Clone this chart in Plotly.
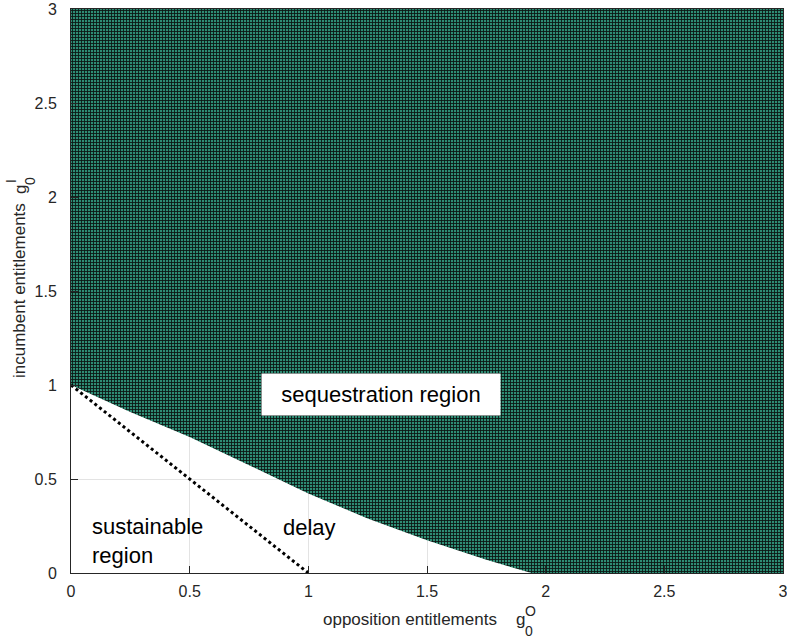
import plotly.graph_objects as go

# ---- data ----
boundary_x = [0.0, 0.25, 0.5, 0.75, 1.0, 1.25, 1.5, 1.75, 1.94]
boundary_y = [1.0, 0.857, 0.724, 0.573, 0.423, 0.29, 0.174, 0.07, 0.0]
axis_max = 3.0
delay_x = [0.0, 1.0]
delay_y = [1.0, 0.0]
tick_vals = [0, 0.5, 1, 1.5, 2, 2.5, 3]
tick_text = ["0", "0.5", "1", "1.5", "2", "2.5", "3"]

# ---- layout geometry ----
W, H = 787, 640
L, R, T, B = 71, 4, 9, 67
PW, PH = W - L - R, H - T - B

def px(x):
    return (x - L) / PW

def py(y):
    return (H - B - y) / PH

FONT = "Liberation Sans, Arial, sans-serif"
TXT = "#262626"

region_x = boundary_x + [axis_max, axis_max, 0.0]
region_y = boundary_y + [0.0, axis_max, axis_max]

fig = go.Figure()
fig.add_trace(go.Scatter(
    x=region_x, y=region_y, mode="lines", fill="toself",
    line=dict(width=0, color="rgba(0,0,0,0)"),
    fillcolor="#25705c",
    fillpattern=dict(shape="+", bgcolor="#2e8c74", fgcolor="#0c1714",
                     size=3, solidity=0.5, fillmode="replace"),
    hoverinfo="skip", showlegend=False,
))
fig.add_trace(go.Scatter(
    x=delay_x, y=delay_y, mode="lines",
    line=dict(color="black", width=3, dash="dot"),
    hoverinfo="skip", showlegend=False,
))

axis_common = dict(
    range=[0, axis_max], tickvals=tick_vals, ticktext=tick_text,
    showgrid=True, gridcolor="#e3e3e3", gridwidth=1,
    zeroline=False, showline=True, linecolor=TXT, linewidth=1, mirror=True,
    ticks="inside", ticklen=7, tickcolor=TXT, automargin=False,
    ticklabeloverflow="allow",
    tickfont=dict(family=FONT, size=16, color=TXT),
)
fig.update_xaxes(**axis_common, ticklabelstandoff=4)
fig.update_yaxes(**axis_common, ticklabelstandoff=10)

ann = []
# region labels
ann.append(dict(x=1.308, y=0.949, xref="x", yref="y", text="sequestration region",
                showarrow=False, bgcolor="white", width=236, height=39,
                font=dict(family=FONT, size=22, color="black")))
ann.append(dict(x=0.082, y=0.169, xref="x", yref="y", text="sustainable<br>region",
                showarrow=False, xanchor="left", align="left",
                font=dict(family=FONT, size=22, color="black")))
ann.append(dict(x=1.004, y=0.243, xref="x", yref="y", text="delay",
                showarrow=False,
                font=dict(family=FONT, size=22, color="black")))

def paper_text(xp, yp, text, size, angle=0):
    return dict(x=px(xp), y=py(yp), xref="paper", yref="paper", text=text,
                showarrow=False, xanchor="center", yanchor="middle",
                textangle=angle, font=dict(family=FONT, size=size, color=TXT))

# x axis title
ann.append(paper_text(410, 619, "opposition entitlements", 17))
ann.append(paper_text(520, 619, "g", 17))
ann.append(paper_text(530, 611, "O", 14))
ann.append(paper_text(529, 631, "0", 14))
# y axis title
ann.append(paper_text(19, 291, "incumbent entitlements", 17, -90))
ann.append(paper_text(20, 190, "g", 17, -90))
ann.append(paper_text(11, 181, "I", 14, -90))
ann.append(paper_text(30, 181, "0", 14, -90))

fig.update_layout(
    width=W, height=H,
    margin=dict(l=L, r=R, t=T, b=B, pad=0, autoexpand=False),
    paper_bgcolor="white", plot_bgcolor="white",
    showlegend=False, annotations=ann,
)

fig.write_html(
    "out.html",
    config={"displayModeBar": False, "staticPlot": True},
    post_script="document.body.style.margin='0';document.body.style.overflow='hidden';",
)
